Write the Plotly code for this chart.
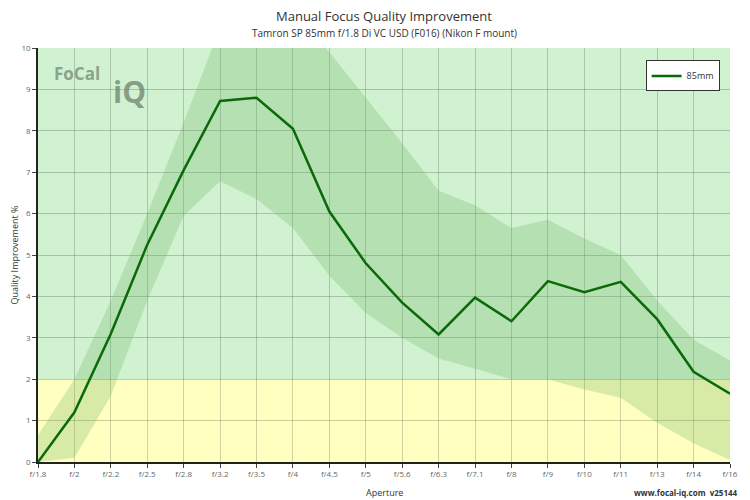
import plotly.graph_objects as go

apertures = ["f/1.8","f/2","f/2.2","f/2.5","f/2.8","f/3.2","f/3.5","f/4","f/4.5","f/5",
             "f/5.6","f/6.3","f/7.1","f/8","f/9","f/10","f/11","f/13","f/14","f/16"]
quality = [0, 1.2, 3.1, 5.25, 7.05, 8.72, 8.8, 8.05, 6.05, 4.8,
           3.85, 3.08, 3.97, 3.4, 4.37, 4.1, 4.35, 3.45, 2.18, 1.65]
band_upper = [0.65, 2.0, 3.9, 6.0, 8.2, 10.5, 11.0, 10.9, 9.9, 8.8,
              7.7, 6.55, 6.2, 5.65, 5.85, 5.4, 5.0, 3.9, 2.95, 2.45]
band_lower = [0, 0.1, 1.6, 3.9, 5.95, 6.78, 6.35, 5.65, 4.5, 3.6,
              3.0, 2.5, 2.25, 2.0, 2.0, 1.75, 1.55, 0.95, 0.45, 0.05]
y_ticks = list(range(0, 11))

xi = list(range(len(apertures)))
fig = go.Figure()
fig.add_trace(go.Scatter(x=xi, y=band_lower, mode="lines", line=dict(width=0),
                         showlegend=False, hoverinfo="skip"))
fig.add_trace(go.Scatter(x=xi, y=band_upper, mode="lines", line=dict(width=0),
                         fill="tonexty", fillcolor="rgba(110,180,100,0.28)",
                         showlegend=False, hoverinfo="skip"))
fig.add_trace(go.Scatter(x=xi, y=quality, mode="lines", name="85mm",
                         line=dict(color="#0a6a0a", width=2.5)))

fig.add_shape(type="rect", xref="paper", yref="y", x0=0, x1=1, y0=2, y1=10,
              fillcolor="#d0f2d0", line_width=0, layer="below")
fig.add_shape(type="rect", xref="paper", yref="y", x0=0, x1=1, y0=0, y1=2,
              fillcolor="#ffffc0", line_width=0, layer="below")

fig.update_layout(
    width=742, height=492, paper_bgcolor="white", plot_bgcolor="white",
    margin=dict(l=30, r=20, t=40, b=38, autoexpand=False),
    font=dict(family="Open Sans, DejaVu Sans", size=9, color="#444"),
    xaxis=dict(tickmode="array", tickvals=xi, ticktext=apertures, range=[0, 19],
               showgrid=True, gridcolor="rgba(0,0,0,0.18)", zeroline=False,
               showline=True, linecolor="#222", linewidth=1.5, ticks="outside",
               ticklen=4, tickfont=dict(size=8, color="#666"), automargin=False),
    yaxis=dict(range=[0, 10], tickvals=y_ticks, showgrid=True,
               gridcolor="rgba(0,0,0,0.2)", zeroline=False, showline=True,
               linecolor="#222", linewidth=1.5, ticks="outside", ticklen=4,
               tickfont=dict(size=8, color="#666"), automargin=False,
               title=dict(text="Quality Improvement %", font=dict(size=9, color="#333"), standoff=4)),
    legend=dict(x=0.985, y=0.97, xanchor="right", yanchor="top", bgcolor="white",
                bordercolor="#333", borderwidth=1, font=dict(size=9, color="#333")),
    annotations=[
        dict(text="Manual Focus Quality Improvement", xref="paper", yref="paper",
             x=0.5, y=1, yshift=32, yanchor="middle", showarrow=False,
             font=dict(size=13, color="#333")),
        dict(text="Tamron SP 85mm f/1.8 Di VC USD (F016) (Nikon F mount)", xref="paper",
             yref="paper", x=0.5, y=1, yshift=15, yanchor="middle", showarrow=False,
             font=dict(size=10, color="#333")),
        dict(text="Aperture", xref="paper", yref="paper", x=0.5, y=0, yshift=-30,
             yanchor="middle", showarrow=False, font=dict(size=9, color="#333")),
        dict(text="<b>FoCal</b>", xref="paper", yref="paper", x=0.02, y=0.97,
             xanchor="left", yanchor="top", showarrow=False,
             font=dict(size=17, color="rgba(120,140,120,0.8)")),
        dict(text="<b>iQ</b>", xref="paper", yref="paper", x=0.105, y=0.95,
             xanchor="left", yanchor="top", showarrow=False,
             font=dict(size=30, color="rgba(110,130,110,0.75)")),
        dict(text="<b>www.focal-iq.com  v25144</b>", xref="paper", yref="paper",
             x=1.0, xshift=10, y=0, yshift=-30, xanchor="right", yanchor="middle",
             showarrow=False, font=dict(size=8, color="#333")),
    ],
)
fig.write_html("out.html")
